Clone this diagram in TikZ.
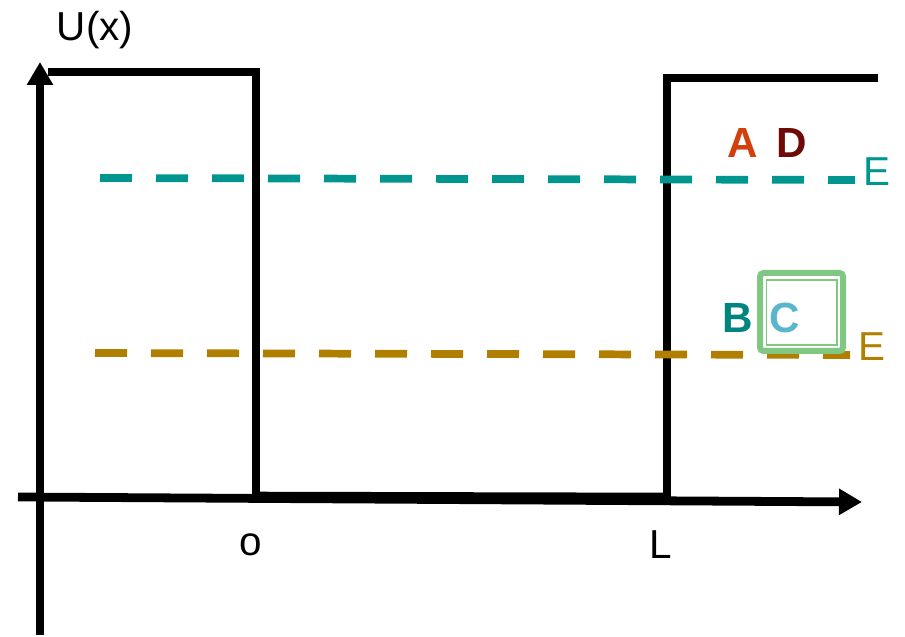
\documentclass[tikz,border=0pt]{standalone}
\usepackage{fontspec}
\setmainfont{Liberation Sans}
\usetikzlibrary{arrows.meta, positioning}

\definecolor{levelteal}{HTML}{00958F}
\definecolor{levelgold}{HTML}{B07F00}
\definecolor{labA}{HTML}{D2400C}
\definecolor{labD}{HTML}{6E0A08}
\definecolor{labB}{HTML}{00847F}
\definecolor{labC}{HTML}{5AB6CF}
\definecolor{boxgreen}{HTML}{80C882}

\begin{document}
\begin{tikzpicture}[
    axis/.style={line width=5pt, -{Triangle[length=0.46cm, width=0.5cm]}},
    wall/.style={line width=5pt, line join=miter},
    level/.style={line width=4.4pt, dash pattern=on 0.64cm off 0.48cm},
    lbl/.style={font=\fontsize{23}{26}\selectfont, inner sep=0pt},
    tag/.style={font=\fontsize{24}{26}\selectfont\bfseries, inner sep=0pt},
]
\useasboundingbox (0,0) rectangle (18.1,12.74);

% Axes
\coordinate (ybot) at (0.8,0.04);
\coordinate (ytop) at (0.8,11.5);
\coordinate (xleft) at (0.36,2.8);
\coordinate (xright) at (17.24,2.7);
\draw[axis] (ybot) -- (ytop);
\draw[axis] (xleft) -- (xright);
\node[lbl] (ulabel) at (1.9,12.14) {U(x)};

% Potential walls
\coordinate (lw0) at (0.96,11.3);
\coordinate (lw1) at (5.12,11.3);
\coordinate (lw2) at (5.12,2.8);
\coordinate (rw0) at (13.34,2.78);
\coordinate (rw1) at (13.34,11.18);
\coordinate (rw2) at (17.56,11.18);
\draw[wall] (lw0) -- (lw1) -- (lw2);
\draw[line width=6pt] (lw2) -- (rw0);
\draw[wall] (rw0) -- (rw1) -- (rw2);
\node[lbl] (olabel) at (5.02,1.84) {o};
\node[lbl] (llabel) at (13.22,1.84) {L};

% Energy levels
\coordinate (hi0) at (2.0,9.18);
\coordinate (hi1) at (17.1,9.14);
\coordinate (lo0) at (1.9,5.68);
\coordinate (lo1) at (17.0,5.64);
\draw[level, levelteal] (hi0) -- (hi1);
\draw[level, levelgold] (lo0) -- (lo1);
\node[lbl, text=levelteal] (ehi) at (17.54,9.3) {E};
\node[lbl, text=levelgold] (elo) at (17.44,5.8) {E};

% Markers
\node[tag, text=labA] (ta) at (14.86,9.88) {A};
\node[tag, text=labD] (td) at (15.84,9.88) {D};
\node[tag, text=labB] (tb) at (14.76,6.38) {B};
\draw[boxgreen, line width=0.12cm, rounded corners=0.07cm] (15.2,5.72) rectangle (16.86,7.28);
\draw[boxgreen, line width=0.7pt] (15.33,5.84) rectangle (16.74,7.14);
\node[tag, text=labC] (tc) at (15.7,6.38) {C};

\end{tikzpicture}
\end{document}
